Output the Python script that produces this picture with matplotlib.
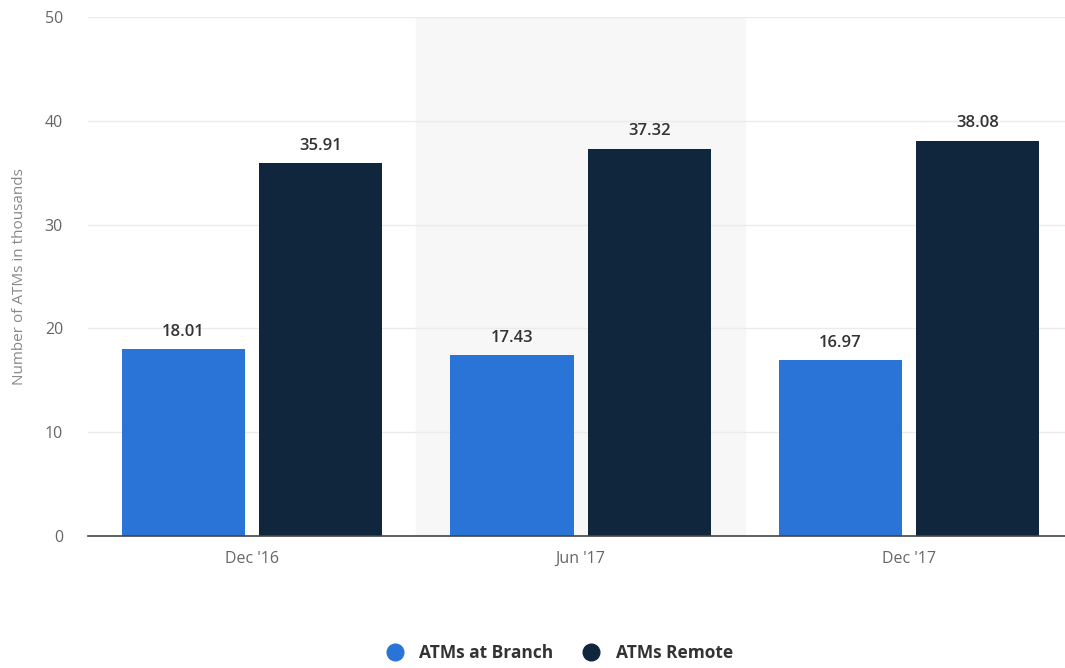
import matplotlib
matplotlib.use("Agg")
import matplotlib.pyplot as plt
from matplotlib.lines import Line2D
import numpy as np

plt.rcParams["font.family"] = ["Open Sans", "DejaVu Sans"]

categories = ["Dec '16", "Jun '17", "Dec '17"]
branch = [18.01, 17.43, 16.97]
remote = [35.91, 37.32, 38.08]
series_names = ["ATMs at Branch", "ATMs Remote"]
yticks = [0, 10, 20, 30, 40, 50]

blue = "#2a74d8"
navy = "#10263d"

fig = plt.figure(figsize=(10.65, 6.68), dpi=100)
ax = fig.add_axes([88 / 1065, 1 - 536 / 668, 1 - 88 / 1065, (536 - 17) / 668])

x = np.arange(len(categories))
w = 0.375
off = 0.209

ax.axvspan(0.5, 1.5, color="#f7f7f7", zorder=0)
for yv in yticks[1:]:
    ax.axhline(yv, color="#ebebeb", lw=1, zorder=1)

b1 = ax.bar(x - off, branch, w, color=blue, zorder=2)
b2 = ax.bar(x + off, remote, w, color=navy, zorder=2)

for bars, vals in ((b1, branch), (b2, remote)):
    for r, v in zip(bars, vals):
        ax.text(r.get_x() + r.get_width() / 2, v + 0.9, f"{v:.2f}",
                ha="center", va="bottom", fontsize=12, fontweight="semibold",
                color="#333333", zorder=3)

ax.set_xlim(-0.5, 2.475)
ax.set_ylim(0, 50)
ax.set_yticks(yticks)
ax.set_xticks(x)
ax.set_xticklabels(categories)
ax.tick_params(axis="both", length=0, colors="#666666", labelsize=11.5)
ax.tick_params(axis="y", pad=18)
ax.tick_params(axis="x", pad=11)
for s in ("top", "right", "left"):
    ax.spines[s].set_visible(False)
ax.spines["bottom"].set_color("#444444")
ax.spines["bottom"].set_linewidth(1.2)
ax.set_ylabel("Number of ATMs in thousands", color="#888888", fontsize=11)
ax.yaxis.set_label_coords(-61 / 977, 0.5)

handles = [Line2D([], [], marker="o", ls="", markersize=12, color=c) for c in (blue, navy)]
fig.legend(handles, series_names, loc="center", bbox_to_anchor=(555 / 1065, 1 - 653 / 668),
           ncol=2, frameon=False, handletextpad=0.4, columnspacing=1.2,
           prop={"weight": "bold", "size": 12.5}, labelcolor="#333333")

fig.savefig("out.png", dpi=100)
